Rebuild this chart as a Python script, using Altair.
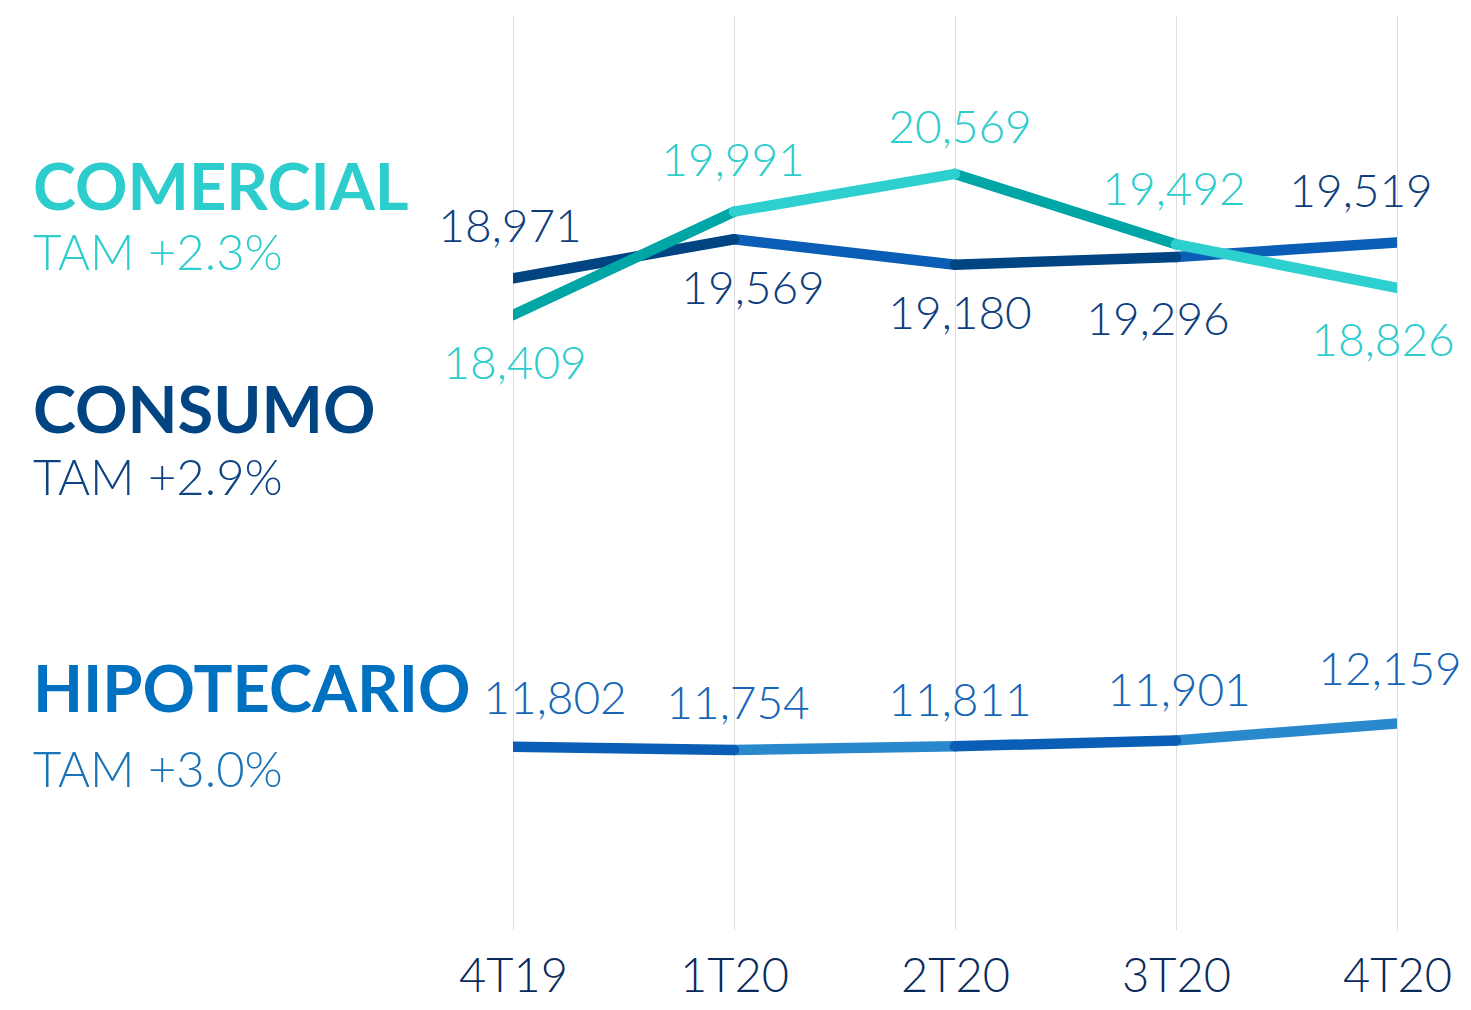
import altair as alt
import pandas as pd

quarters = ["4T19", "1T20", "2T20", "3T20", "4T20"]
comercial = [18409, 19991, 20569, 19492, 18826]
consumo = [18971, 19569, 19180, 19296, 19519]
hipotecario = [11802, 11754, 11811, 11901, 12159]

series_names = ["Comercial", "Consumo", "Hipotecario"]
series_values = [comercial, consumo, hipotecario]

# segment colours: (even segments, odd segments), and which is drawn on top
seg_colors = {
    "Comercial": ("#00a5a6", "#2ecfcf"),
    "Consumo": ("#004481", "#0b5eb5"),
    "Hipotecario": ("#0b5eb5", "#2a88cc"),
}
top_parity = {"Comercial": 1, "Consumo": 0, "Hipotecario": 0}
label_colors = {"Comercial": "#2dcccd", "Consumo": "#0e3e7d", "Hipotecario": "#1566b6"}

# label offsets (pixels, from data point to text baseline centre)
label_dx = {
    "Comercial": [2, -1, 5, -2, -14],
    "Consumo": [-3, 19, 5, -18, -36],
    "Hipotecario": [42, 4, 5, 3, -7],
}
label_dy = {
    "Comercial": [64, -36, -31, -39, 68],
    "Consumo": [-36, 65, 64, 78, -36],
    "Hipotecario": [-33, -31, -30, -34, -39],
}

FONT = "Lato"
W, H = 884, 915
Y_DOMAIN = [9000, 23000]

x_enc = alt.X(
    "quarter:N",
    sort=quarters,
    scale=alt.Scale(type="point", padding=0),
    axis=alt.Axis(
        title=None, domain=False, ticks=False, tickSize=0, grid=True,
        gridColor="#dedede", gridWidth=1, labelFontSize=47, labelFont=FONT,
        labelFontWeight=300, labelColor="#0a2a5c", labelPadding=61,
        labelBaseline="alphabetic", labelAngle=0,
    ),
)
y_scale = alt.Scale(domain=Y_DOMAIN, zero=False, nice=False)
y_enc = alt.Y("value:Q", scale=y_scale, axis=None)

rows = []
for name, vals in zip(series_names, series_values):
    for i in range(len(quarters) - 1):
        for j in (i, i + 1):
            rows.append({
                "series": name, "seg": f"{name}-{i}", "parity": i % 2,
                "shade": seg_colors[name][i % 2],
                "quarter": quarters[j], "value": vals[j],
            })
seg_df = pd.DataFrame(rows)

all_shades = sorted(set(seg_df["shade"]))
color_enc = alt.Color("shade:N", scale=alt.Scale(domain=all_shades, range=all_shades), legend=None)

layers = []
for name in ["Hipotecario", "Consumo", "Comercial"]:
    for parity in (1 - top_parity[name], top_parity[name]):
        sub = seg_df[(seg_df.series == name) & (seg_df.parity == parity)]
        layers.append(
            alt.Chart(sub).mark_line(strokeWidth=10.5, strokeCap="round", clip=True).encode(
                x=x_enc, y=y_enc, color=color_enc, detail="seg:N"
            )
        )

# value labels
for name, vals in zip(series_names, series_values):
    for i, (q, v) in enumerate(zip(quarters, vals)):
        d = pd.DataFrame({"quarter": [q], "value": [v], "label": [f"{v:,}"]})
        layers.append(
            alt.Chart(d).mark_text(
                font=FONT, fontWeight=300, fontSize=46, color=label_colors[name],
                align="center", baseline="alphabetic",
                dx=label_dx[name][i], dy=label_dy[name][i],
            ).encode(x=x_enc, y=y_enc, text="label:N")
        )

# left side annotations
titles = ["COMERCIAL", "CONSUMO", "HIPOTECARIO"]
tams = ["TAM +2.3%", "TAM +2.9%", "TAM +3.0%"]
title_colors = ["#2dcccd", "#004481", "#0070c0"]
tam_colors = ["#2dcccd", "#0d4283", "#1973b8"]
title_base = [195, 418, 697]
tam_base = [255, 480, 772]
ann_df = pd.DataFrame({"k": [0]})
for t, tm, tc, mc, tb, mb in zip(titles, tams, title_colors, tam_colors, title_base, tam_base):
    layers.append(
        alt.Chart(ann_df).mark_text(
            text=t, font=FONT, fontWeight="bold", fontSize=65, color=tc,
            align="left", baseline="alphabetic",
        ).encode(x=alt.value(-480), y=alt.value(tb))
    )
    layers.append(
        alt.Chart(ann_df).mark_text(
            text=tm, font=FONT, fontWeight=300, fontSize=49, color=mc,
            align="left", baseline="alphabetic",
        ).encode(x=alt.value(-480), y=alt.value(mb))
    )

chart = alt.layer(*layers).properties(
    width=W, height=H,
    autosize=alt.AutoSizeParams(type="none"),
    padding={"left": 505, "top": 7, "right": 66, "bottom": 72},
).configure(
    background="white",
    view=alt.ViewConfig(strokeWidth=0, stroke="transparent"),
)

chart.save("out.html", embed_options={"renderer": "svg", "actions": False})
